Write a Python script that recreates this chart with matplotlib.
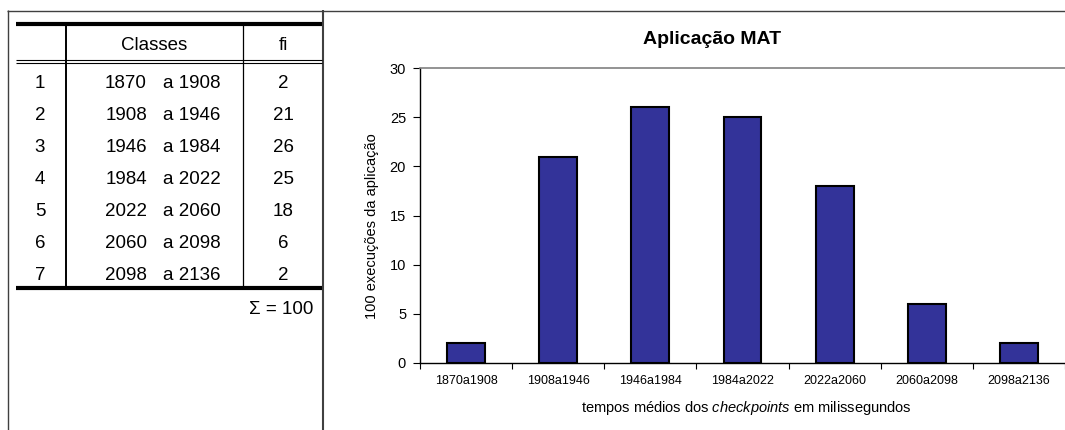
import numpy as np
import matplotlib
matplotlib.use("Agg")
import matplotlib.pyplot as plt
from matplotlib.lines import Line2D

plt.rcParams['font.family'] = ['Liberation Sans', 'DejaVu Sans']
plt.rcParams['mathtext.fontset'] = 'custom'
plt.rcParams['mathtext.rm'] = 'Liberation Sans'
plt.rcParams['mathtext.it'] = 'Liberation Sans:italic'

# data
row_num = [1, 2, 3, 4, 5, 6, 7]
class_start = [1870, 1908, 1946, 1984, 2022, 2060, 2098]
class_end = [1908, 1946, 1984, 2022, 2060, 2098, 2136]
fi = [2, 21, 26, 25, 18, 6, 2]
tick_labels = ['1870a1908', '1908a1946', '1946a1984', '1984a2022',
               '2022a2060', '2060a2098', '2098a2136']
total = 100

W, H = 1065, 430
fig = plt.figure(figsize=(W / 100, H / 100), dpi=100)


def fx(px):
    return px / W


def fy(py):
    return 1 - py / H


def hline(x0, x1, y, lw, color='black'):
    fig.add_artist(Line2D([fx(x0), fx(x1)], [fy(y), fy(y)], lw=lw, color=color,
                          transform=fig.transFigure, solid_capstyle='butt'))


def vline(x, y0, y1, lw, color='black'):
    fig.add_artist(Line2D([fx(x), fx(x)], [fy(y0), fy(y1)], lw=lw, color=color,
                          transform=fig.transFigure, solid_capstyle='butt'))


# outer frame
hline(7, W, 10.5, 1.0, '#404040')
vline(7.5, 10, H, 1.0, '#404040')
vline(323, 10, H, 1.5, '#404040')

# table lines
hline(16, 322, 24, 3.0)
hline(16, 322, 59.5, 0.8)
hline(16, 322, 62.5, 0.8)
hline(16, 322, 288, 3.0)
vline(66, 24, 288, 1.4)
vline(243, 24, 288, 0.9)

# table text
tfs = 13.5
fig.text(fx(154), fy(45), 'Classes', ha='center', va='center', fontsize=tfs)
fig.text(fx(283), fy(45), 'fi', ha='center', va='center', fontsize=tfs)
for i in range(len(row_num)):
    y = 83 + i * 32
    fig.text(fx(40), fy(y), str(row_num[i]), ha='center', va='center', fontsize=tfs)
    fig.text(fx(147), fy(y), str(class_start[i]), ha='right', va='center', fontsize=tfs)
    fig.text(fx(163), fy(y), 'a ' + str(class_end[i]), ha='left', va='center', fontsize=tfs)
    fig.text(fx(283), fy(y), str(fi[i]), ha='center', va='center', fontsize=tfs)
fig.text(fx(313), fy(309), '\u03a3 = ' + str(total), ha='right', va='center', fontsize=tfs)

# chart
ax = fig.add_axes([fx(420), fy(363), fx(1065) - fx(420), fy(68) - fy(363)])
x = np.arange(len(fi))
ax.bar(x, fi, width=0.41, color='#333399', edgecolor='black', linewidth=1.5, zorder=3)
ax.set_xlim(-0.5, len(fi) - 0.5)
ax.set_ylim(0, 30)
ax.set_yticks([0, 5, 10, 15, 20, 25, 30])
ax.tick_params(axis='y', labelsize=10.5, length=5, width=0.8, pad=5)
ax.set_xticks(x)
ax.set_xticklabels(tick_labels, fontsize=9)
ax.set_xticks(np.arange(-0.5, len(fi)), minor=True)
ax.tick_params(axis='x', which='major', length=0, pad=9)
ax.tick_params(axis='x', which='minor', length=4, width=0.8)

ax.spines['right'].set_visible(False)
ax.spines['top'].set_color('#808080')
ax.spines['top'].set_linewidth(1.2)
ax.spines['left'].set_linewidth(1.0)
ax.spines['bottom'].set_linewidth(1.0)

fig.text(fx(712), fy(40), 'Aplicação MAT', ha='center', va='center',
         fontsize=14, fontweight='bold')
fig.text(fx(372), fy(226), '100 execuções da aplicação', rotation=90,
         ha='center', va='center', fontsize=10.5)
fig.text(fx(746), fy(408), 'tempos médios dos $\\it{checkpoints}$ em milissegundos',
         ha='center', va='center', fontsize=10.5)

fig.savefig('out.png', dpi=100)
